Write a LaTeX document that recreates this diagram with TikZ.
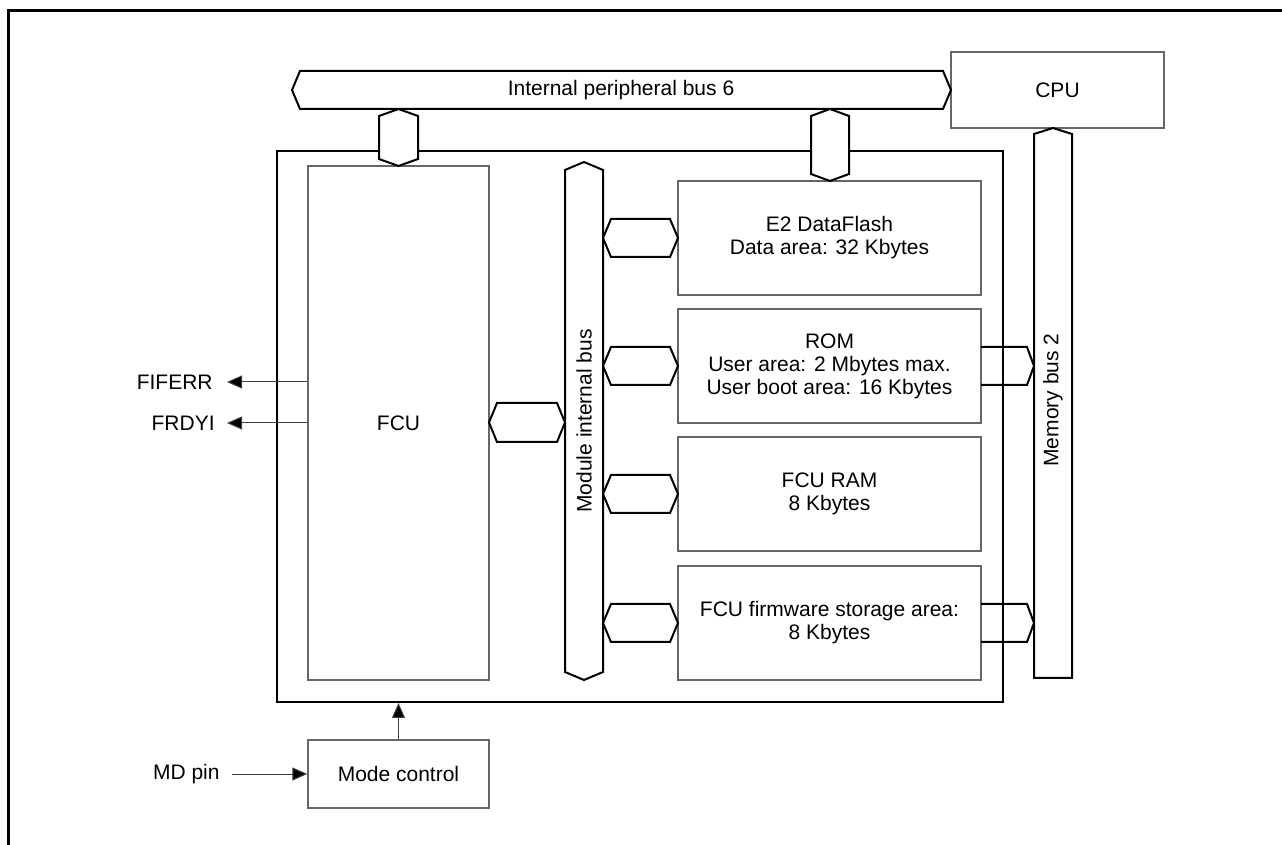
\documentclass[tikz,border=0pt]{standalone}
\usepackage{fontspec}
\setmainfont{Liberation Sans}
\usetikzlibrary{fit,arrows.meta}
\begin{document}
\begin{tikzpicture}[x=0.5pt,y=-0.5pt,
  font=\fontsize{10.5}{11.5}\selectfont,
  bus/.style={draw=black, line width=1pt, fill=white, line join=miter},
  thickbox/.style={draw=black, line width=1pt, inner sep=0pt},
  graybox/.style={draw=black!60, line width=0.7pt, inner sep=0pt, fill=white},
  lbl/.style={align=center, inner sep=0pt},
  arr/.style={draw=black!75, line width=0.5pt, -{Triangle[length=7.5pt,width=6.5pt,fill=black]}}]

\useasboundingbox (0,0) rectangle (1282,845);
\draw[line width=1.5pt] (8,845) -- (8,11) -- (1282,11);

% main flash module box
\node[thickbox, fit={(277,151)(1003,702)}] (flash) {};

% blocks
\node[graybox, fit={(308,166)(489,680)}] (fcu) {};
\node[lbl] (fcut) at (fcu.center) {FCU};
\node[graybox, fit={(678,181)(981,295)}] (e2) {};
\node[lbl] (e2t) at (e2.center) {E2 DataFlash\\Data area: 32 Kbytes};
\node[graybox, fit={(678,309)(981,423)}] (rom) {};
\node[lbl] (romt) at (rom.center) {ROM\\User area: 2 Mbytes max.\\User boot area: 16 Kbytes};
\node[graybox, fit={(678,437)(981,551)}] (ram) {};
\node[lbl] (ramt) at (ram.center) {FCU RAM\\8 Kbytes};
\node[graybox, fit={(678,566)(981,680)}] (fw) {};
\node[lbl] (fwt) at (fw.center) {FCU firmware storage area:\\8 Kbytes};
\node[graybox, fit={(951,52)(1164,128)}] (cpu) {};
\node[lbl] (cput) at (cpu.center) {CPU};
\node[graybox, fit={(308,740)(489,808)}] (mode) {};
\node[lbl] (modet) at (mode.center) {Mode control};

% internal peripheral bus 6
\draw[bus] (292,90) -- (300,71) -- (943,71) -- (951,90) -- (943,109) -- (300,109) -- cycle;
\node[lbl] (pbus) at (621,90) {Internal peripheral bus 6};

% vertical connectors from bus 6
\draw[bus] (398.5,109) -- (418,116) -- (418,159) -- (398.5,166) -- (379,159) -- (379,116) -- cycle;
\draw[bus] (830,109) -- (849,116) -- (849,174) -- (830,181) -- (811,174) -- (811,116) -- cycle;

% module internal bus
\draw[bus] (584,162) -- (603,170) -- (603,672) -- (584,680) -- (565,672) -- (565,170) -- cycle;
\node[lbl, rotate=90] (mib) at (584,421) {Module internal bus};

% FCU to module internal bus
\draw[bus] (489,422.5) -- (497,403) -- (557,403) -- (565,422.5) -- (557,442) -- (497,442) -- cycle;

% module bus to memories
\foreach \cy in {238,366,494,623}{
  \draw[bus] (603,\cy) -- (611,\cy-19) -- (670,\cy-19) -- (678,\cy) -- (670,\cy+19) -- (611,\cy+19) -- cycle;
}

% memory bus 2
\draw[bus] (1053,128) -- (1072,134) -- (1072,678) -- (1034,678) -- (1034,134) -- cycle;
\node[lbl, rotate=90] (mb2) at (1053,400) {Memory bus 2};

% memories to memory bus 2
\foreach \cy in {366,623}{
  \draw[bus, fill=none] (981,\cy-19) -- (1027,\cy-19) -- (1034,\cy) -- (1027,\cy+19) -- (981,\cy+19);
}

% signals
\node[anchor=east, inner sep=0pt] (fiferr) at (213,382) {FIFERR};
\node[anchor=east, inner sep=0pt] (frdyi) at (215,423) {FRDYI};
\node[anchor=east, inner sep=0pt] (mdpin) at (220,774) {MD pin};

\draw[arr] (fcu.west |- fiferr) -- ([xshift=7pt]fiferr.east);
\draw[arr] (fcu.west |- frdyi) -- ([xshift=6pt]frdyi.east);
\draw[arr] ([xshift=6pt]mdpin.east) -- (mode.west |- mdpin);
\draw[arr] (mode.north) -- (flash.south -| mode.north);
\end{tikzpicture}
\end{document}
